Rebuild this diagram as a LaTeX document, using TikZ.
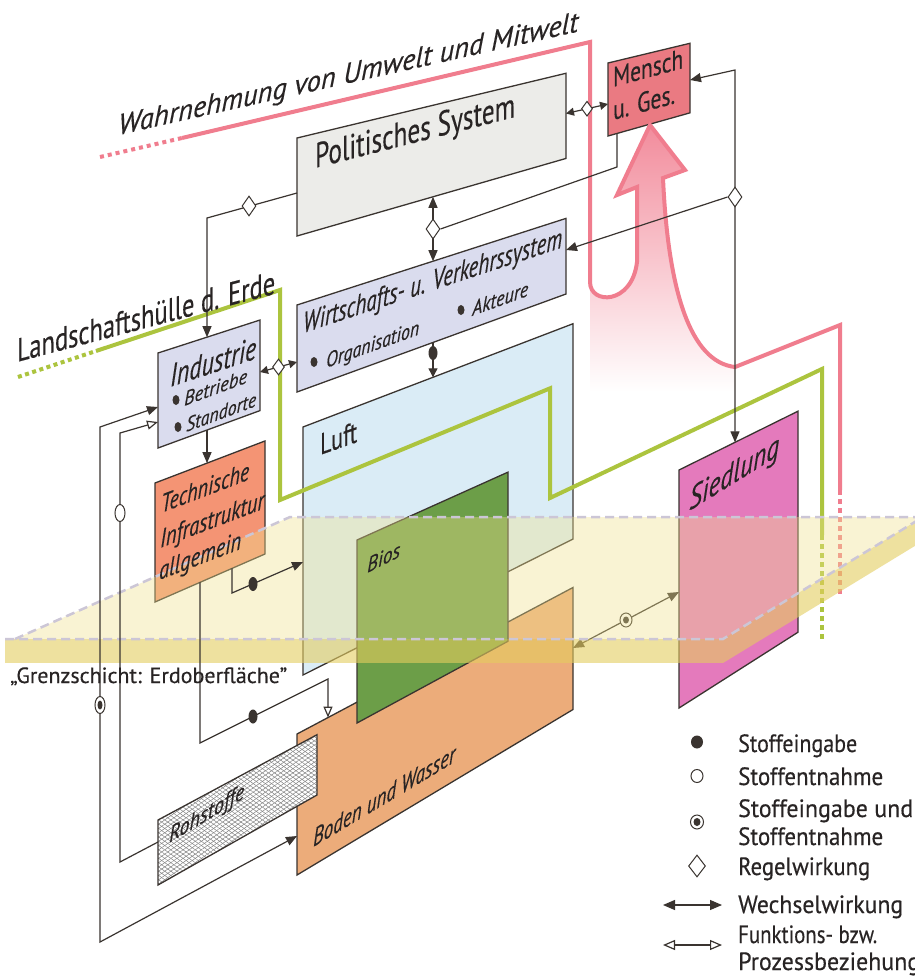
\documentclass[tikz,border=0pt]{standalone}
\usepackage{fontspec}
\setmainfont{PT Sans}
\usepackage{graphicx}
\usetikzlibrary{arrows.meta,shapes.geometric,patterns.meta}
\definecolor{linec}{RGB}{58,52,48}
\definecolor{txtc}{RGB}{40,36,36}
\definecolor{polc}{RGB}{236,236,233}
\definecolor{menc}{RGB}{234,122,130}
\definecolor{wirtc}{RGB}{218,220,238}
\definecolor{techc}{RGB}{244,148,116}
\definecolor{luftc}{RGB}{218,236,246}
\definecolor{biosc}{RGB}{108,158,72}
\definecolor{bodenc}{RGB}{236,172,122}
\definecolor{siedc}{RGB}{228,122,188}
\definecolor{pinkl}{RGB}{240,125,142}
\definecolor{pinkf}{RGB}{242,140,156}
\definecolor{greenl}{RGB}{172,196,62}
\definecolor{planec}{RGB}{241,226,141}
\definecolor{bandc}{RGB}{228,205,95}
\definecolor{dashc}{RGB}{204,198,214}
\definecolor{hatchc}{RGB}{130,130,130}
\newcommand\fitw[3]{\resizebox{#1pt}{\height}{\fontsize{#2}{#2}\selectfont\addfontfeatures{FakeBold=0.35}#3}}
\newcommand\fiti[3]{\resizebox{#1pt}{\height}{\fontsize{#2}{#2}\selectfont\itshape\addfontfeatures{FakeBold=0.35}#3}}
\newcommand\pbox[6]{%
  \coordinate (#1-tl) at (#2,#4);
  \coordinate (#1-bl) at (#2,#5);
  \coordinate (#1-tr) at (#3,{vy(#2,#4,#3)});
  \coordinate (#1-br) at (#3,{vy(#2,#5,#3)});
  \path[#6] (#1-tl) -- (#1-tr) -- (#1-br) -- (#1-bl) -- cycle;}
\begin{document}
\begin{tikzpicture}[x=1pt,y=-1pt,
  declare function={vy(\xa,\ya,\xb)=\ya+(\xb-\xa)/(2350-\xa)*(-356-\ya);},
  boxs/.style={draw=linec,line width=1.3pt},
  conn/.style={draw=linec,line width=1.2pt},
  ftip/.tip={Triangle[length=11pt,width=9pt]},
  otip/.tip={Triangle[open,length=11pt,width=9pt]},
  stip/.tip={Triangle[length=8pt,width=8pt]},
  diam/.style={diamond,draw=linec,fill=white,line width=1pt,minimum width=14pt,minimum height=20pt,inner sep=0pt},
  dotf/.style={ellipse,fill=linec,minimum width=9pt,minimum height=14pt,inner sep=0pt},
  dotc/.style={ellipse,draw=linec,fill=white,line width=1pt,minimum width=10pt,minimum height=17pt,inner sep=0pt},
  lbl/.style={inner sep=0pt,anchor=base west,text=txtc},
  plinedash/.style={dashc,line width=2.5pt,dash pattern=on 9pt off 5pt}
]
\fill[white] (0,0) rectangle (914,978);
\useasboundingbox (0,0) rectangle (914,978);

% big pink arrow fill
\shade[top color=pinkf, middle color=pinkf, bottom color=white]
 (650,125) -- (685,170) -- (663,178) .. controls (668,290) and (690,362) .. (735,367)
 -- (735,392) -- (590,392) -- (590,282) .. controls (590,305) and (632,305) .. (637,262)
 -- (637,187) -- (617,195) -- cycle;

% boxes
\pbox{luft}{303}{573}{427}{675}{boxs,fill=luftc}
\pbox{boden}{297}{573}{734}{875}{boxs,fill=bodenc}
\pbox{bios}{357}{508}{540}{723}{boxs,fill=biosc}
\pbox{roh}{158}{317}{820}{885}{fill=white}
\path[pattern={Lines[angle=35,distance=3.5pt,line width=0.5pt]},pattern color=hatchc] (roh-tl) -- (roh-tr) -- (roh-br) -- (roh-bl) -- cycle;
\path[pattern={Lines[angle=-35,distance=3.5pt,line width=0.5pt]},pattern color=hatchc] (roh-tl) -- (roh-tr) -- (roh-br) -- (roh-bl) -- cycle;
\draw[boxs] (roh-tl) -- (roh-tr) -- (roh-br) -- (roh-bl) -- cycle;
\pbox{sied}{679}{798}{470}{708}{boxs,fill=siedc}
\pbox{tech}{155}{265}{483}{602}{boxs,fill=techc}
\pbox{ind}{158}{260}{353}{448}{boxs,fill=wirtc}
\pbox{wirt}{297}{566}{305}{392}{boxs,fill=wirtc}
\pbox{pol}{297}{566}{138}{236}{boxs,fill=polc}
\pbox{men}{608}{690}{63}{136}{boxs,fill=menc}

% green line (Landschaftshuelle)
\draw[greenl,line width=4pt,dash pattern=on 4pt off 3.5pt] (18,377) -- (96,351);
\draw[greenl,line width=4pt] (96,351) -- (280,290) -- (280,500) -- (550,{vy(280,500,550)}) -- (550,498) -- (822,{vy(550,498,822)}) -- (822,535);
\draw[greenl,line width=4pt,dash pattern=on 5pt off 4pt] (822,535) -- (822,640);

% pink line (Wahrnehmung)
\draw[pinkl,line width=4pt,dash pattern=on 4pt off 4pt] (100,157) -- (182,138);
\draw[pinkl,line width=4pt,line join=miter] (182,138) -- (590,42) -- (590,282)
 .. controls (590,305) and (632,305) .. (637,262) -- (637,187) -- (617,195) -- (650,125)
 -- (685,170) -- (663,178) .. controls (668,290) and (690,362) .. (735,367) -- (840,325) -- (840,490);
\draw[pinkl,line width=4pt,dash pattern=on 5pt off 4pt] (840,490) -- (840,595);

% Siedlung <-> Boden (behind the plane)
\coordinate (boden-e) at (573,648);
\coordinate (sied-w) at (679,592);
\draw[conn,{ftip}-{ftip}] (boden-e) -- (sied-w);
\node[dotc,minimum width=12pt,minimum height=14pt] (p14) at (626,620) {};
\node[dotf,minimum width=6pt,minimum height=7pt] (p14i) at (p14) {};

% boundary layer plane
\fill[planec,fill opacity=0.38] (15,639) -- (290,517) -- (923,517) -- (723,639) -- cycle;
\fill[bandc,fill opacity=0.6] (5,639) -- (723,639) -- (723,663) -- (5,663) -- cycle;
\fill[bandc,fill opacity=0.6] (723,639) -- (923,517) -- (923,541) -- (723,663) -- cycle;
\draw[plinedash] (15,639) -- (290,517) -- (923,517);
\draw[plinedash] (5,639) -- (723,639) -- (923,517);

% C1 Politisches -> Industrie
\coordinate (pol-w) at (297,193);
\coordinate (c1) at (207,218);
\coordinate (ind-n) at (207,{vy(158,353,207)});
\draw[conn,-{ftip}] (pol-w) -- (c1) -- (ind-n);
\node[diam] (d1) at (249,206) {};
% C2 Politisches <-> Mensch
\coordinate (pol-e) at (566,113.5);
\coordinate (men-w) at (608,104);
\draw[conn,{stip}-{stip}] (pol-e) -- (men-w);
\node[diam,minimum width=11pt,minimum height=15pt] (d2) at (587,108.7) {};
% C3 Mensch <-> Siedlung
\coordinate (men-e) at (690,80);
\coordinate (c3) at (735,70);
\coordinate (sied-n) at (735,{vy(679,470,735)});
\draw[conn,{ftip}-{ftip}] (men-e) -- (c3) -- (sied-n);
\node[diam] (d3) at (735,197) {};
% C4 -> Wirtschaft
\coordinate (wirt-e) at (566,250);
\draw[conn,-{ftip}] (d3.west) -- (wirt-e);
% C6 Politisches <-> Wirtschaft, C5 Mensch -> diamond
\coordinate (pol-s) at (433,{vy(297,236,433)});
\coordinate (wirt-n) at (433,{vy(297,305,433)});
\draw[conn,{ftip}-{ftip}] (pol-s) -- (wirt-n);
\node[diam] (d5) at (433,229) {};
\coordinate (men-s) at (617,{vy(608,136,617)});
\coordinate (c5) at (617,167);
\draw[conn] (men-s) -- (c5) -- (d5.east);
% C7 Wirtschaft -> Luft
\coordinate (wirt-s) at (433,{vy(297,392,433)});
\coordinate (luft-n) at (433,{vy(303,427,433)});
\draw[conn,-{Triangle[length=9pt,width=9pt]}] (wirt-s) -- (luft-n);
\node[dotf] (p7) at (433,353) {};
% C8 Industrie <-> Wirtschaft
\coordinate (ind-e) at (260,372);
\coordinate (wirt-w) at (297,362);
\draw[conn,{stip}-{stip}] (ind-e) -- (wirt-w);
\node[diam,minimum width=12pt,minimum height=16pt] (d8) at (278.5,367) {};
% C9 Industrie -> Technische
\coordinate (ind-s) at (207,{vy(158,448,207)});
\coordinate (tech-n) at (207,{vy(155,483,207)});
\draw[conn,-{ftip}] (ind-s) -- (tech-n);
% C10 Boden <-> Industrie
\coordinate (boden-w) at (297,836);
\coordinate (c10a) at (100,942);
\coordinate (c10b) at (100,427);
\coordinate (ind-w1) at (158,407);
\draw[conn,{ftip}-{ftip}] (boden-w) -- (c10a) -- (c10b) -- (ind-w1);
\node[dotc] (p10) at (100,705) {};
\node[dotf,minimum width=5pt,minimum height=9pt] (p10i) at (p10) {};
% C11 Rohstoffe -> Industrie
\coordinate (roh-w) at (158,842);
\coordinate (c11a) at (120,862);
\coordinate (c11b) at (120,433);
\coordinate (ind-w2) at (158,422);
\draw[conn,-{otip}] (roh-w) -- (c11a) -- (c11b) -- (ind-w2);
\node[dotc] (p11) at (120,513) {};
% C12 Technische -> Luft
\coordinate (tech-s1) at (232,{vy(155,602,232)});
\coordinate (c12) at (232,593);
\coordinate (luft-w) at (303,562);
\draw[conn,-{ftip}] (tech-s1) -- (c12) -- (luft-w);
\node[dotf] (p12) at (253,584) {};
% C13 Technische -> Boden
\coordinate (tech-s2) at (200,{vy(155,602,200)});
\coordinate (c13a) at (200,743);
\coordinate (c13b) at (328,679);
\coordinate (boden-n) at (328,{vy(297,734,328)});
\draw[conn,-{otip}] (tech-s2) -- (c13a) -- (c13b) -- (boden-n);
\node[dotf] (p13) at (253,716.5) {};

% texts
\node[lbl,yslant=0.225] (t-wahr) at (118,135) {\fiti{460}{29}{Wahrnehmung von Umwelt und Mitwelt}};
\node[lbl,yslant=0.265] (t-land) at (17,362) {\fitw{258}{33}{Landschaftshülle d. Erde}};
\node[lbl,yslant=0.255] (t-pol) at (315,168) {\fitw{200}{35}{Politisches System}};
\node[lbl,yslant=0.27] (t-men1) at (613,87) {\fitw{70}{28}{Mensch}};
\node[lbl,yslant=0.27] (t-men2) at (613,120) {\fitw{62}{28}{u. Ges.}};
\node[lbl,yslant=0.33] (t-wirt) at (303,333) {\fiti{259}{29}{Wirtschafts- u. Verkehrssystem}};
\node[dotf,minimum width=7pt,minimum height=10pt] (b-org) at (314,362) {};
\node[lbl,yslant=0.36] (t-org) at (326,368) {\fiti{93}{21}{Organisation}};
\node[dotf,minimum width=7pt,minimum height=10pt] (b-akt) at (461,310) {};
\node[lbl,yslant=0.36] (t-akt) at (472,316) {\fiti{56}{21}{Akteure}};
\node[lbl,yslant=0.33] (t-ind) at (170,387) {\fiti{86}{32}{Industrie}};
\node[dotf,minimum width=7pt,minimum height=10pt] (b-betr) at (176,400) {};
\node[lbl,yslant=0.37] (t-betr) at (184,406) {\fiti{63}{20}{Betriebe}};
\node[dotf,minimum width=7pt,minimum height=10pt] (b-stand) at (178,427) {};
\node[lbl,yslant=0.37] (t-stand) at (186,432) {\fiti{70}{20}{Standorte}};
\node[lbl,yslant=0.38] (t-tech1) at (161,513) {\fiti{88}{26}{Technische}};
\node[lbl,yslant=0.38] (t-tech2) at (160,548) {\fiti{104}{26}{Infrastruktur}};
\node[lbl,yslant=0.38] (t-tech3) at (159,580) {\fiti{82}{26}{allgemein}};
\node[lbl,yslant=0.35] (t-luft) at (320,455) {\fitw{37}{30}{Luft}};
\node[lbl,yslant=0.5] (t-bios) at (367,573) {\fiti{33}{21}{Bios}};
\node[lbl,yslant=0.62] (t-sied) at (689,511) {\fiti{90}{32}{Siedlung}};
\node[lbl,yslant=0.6] (t-boden) at (313,847) {\fiti{142}{25}{Boden und Wasser}};
\node[lbl,yslant=0.6] (t-roh) at (169,843) {\fiti{75}{22}{Rohstoffe}};
\node[lbl] (t-grenz) at (10,683) {\fitw{277}{22}{„Grenzschicht: Erdoberfläche”}};

% legend
\node[dotf,minimum width=12pt,minimum height=13pt] (lg1) at (697,742) {};
\node[dotc,minimum width=12pt,minimum height=13pt] (lg2) at (697,776) {};
\node[dotc,minimum width=13pt,minimum height=14pt] (lg3) at (697,822) {};
\node[dotf,minimum width=7pt,minimum height=8pt] (lg3i) at (lg3) {};
\node[diam,minimum width=17pt,minimum height=22pt] (lg4) at (697,866) {};
\coordinate (lg5a) at (663,905);
\coordinate (lg5b) at (722,905);
\draw[conn,{Triangle[length=12pt,width=10pt]}-{Triangle[length=12pt,width=10pt]}] (lg5a) -- (lg5b);
\coordinate (lg6a) at (663,945);
\coordinate (lg6b) at (722,945);
\draw[conn,{Triangle[open,length=12pt,width=10pt]}-{Triangle[open,length=12pt,width=10pt]}] (lg6a) -- (lg6b);
\node[lbl] (l1) at (738,752) {\fitw{119}{25}{Stoffeingabe}};
\node[lbl] (l2) at (738,785) {\fitw{145}{25}{Stoffentnahme}};
\node[lbl] (l3) at (738,817) {\fitw{175}{25}{Stoffeingabe und}};
\node[lbl] (l4) at (738,845) {\fitw{145}{25}{Stoffentnahme}};
\node[lbl] (l5) at (738,875) {\fitw{132}{25}{Regelwirkung}};
\node[lbl] (l6) at (738,913) {\fitw{165}{25}{Wechselwirkung}};
\node[lbl] (l7) at (738,943) {\fitw{139}{25}{Funktions- bzw.}};
\node[lbl] (l8) at (738,970) {\fitw{182}{25}{Prozessbeziehung}};
\end{tikzpicture}
\end{document}
